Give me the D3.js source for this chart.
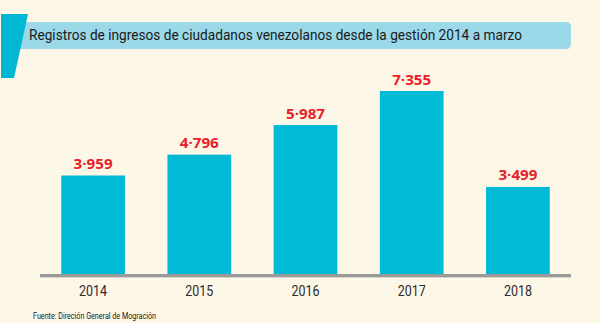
<!DOCTYPE html>
<html>
<head>
<meta charset="utf-8">
<script src="https://cdn.jsdelivr.net/npm/d3@7"></script>
<style>
  html, body { margin: 0; padding: 0; background: #fdf7e7; }
  svg { display: block; }
</style>
</head>
<body>
<div id="chart"></div>
<script>
// data
var years = ["2014", "2015", "2016", "2017", "2018"];
var ingresos = [3959, 4796, 5987, 7355, 3499];
var titulo = "Registros de ingresos de ciudadanos venezolanos desde la gestión 2014 a marzo";
var fuente = "Fuente: Direción General de Mogración";

var W = 600, H = 323;

var svg = d3.select("#chart").append("svg")
  .attr("width", W)
  .attr("height", H);

svg.append("rect").attr("width", W).attr("height", H).attr("fill", "#fdf7e7");

// title banner
svg.append("path")
  .attr("d", "M10,22 H566 Q571,22 571,27 V44 Q571,49 566,49 H10 Z")
  .attr("fill", "#9bd9e8");

svg.append("path")
  .attr("d", "M1,14 L28,14 L14,78 L1,78 Z")
  .attr("fill", "#00b8d4");

svg.append("text")
  .attr("x", 29)
  .attr("y", 40)
  .attr("font-family", "Roboto, 'Noto Sans', sans-serif")
  .attr("font-size", 15)
  .attr("fill", "#1a1a1a")
  .attr("textLength", 493)
  .attr("lengthAdjust", "spacingAndGlyphs")
  .text(titulo);

// scales
var x = d3.scaleBand()
  .domain(years)
  .range([40, 571])
  .paddingInner(0.4)
  .paddingOuter(0.2);

var y = d3.scaleLinear()
  .domain([0, 7355])
  .range([274, 91]);

// bars
svg.selectAll(".bar")
  .data(ingresos)
  .enter().append("rect")
  .attr("class", "bar")
  .attr("x", function(d, i) { return x(years[i]); })
  .attr("y", function(d) { return y(d); })
  .attr("width", x.bandwidth())
  .attr("height", function(d) { return y(0) - y(d); })
  .attr("fill", "#00bad6");

// axis line
svg.append("line")
  .attr("x1", 40).attr("x2", 571)
  .attr("y1", y(0) + 1.5).attr("y2", y(0) + 1.5)
  .attr("stroke", "#9a9a9a")
  .attr("stroke-width", 3);
svg.append("line")
  .attr("x1", 40).attr("x2", 571)
  .attr("y1", y(0) + 3.5).attr("y2", y(0) + 3.5)
  .attr("stroke", "#d8d4c8")
  .attr("stroke-width", 1);

// value labels
var fmt = function(d) { return d3.format(",")(d).replace(",", "·"); };

svg.selectAll(".val")
  .data(ingresos)
  .enter().append("text")
  .attr("class", "val")
  .attr("x", function(d, i) { return x(years[i]) + x.bandwidth() / 2; })
  .attr("y", function(d) { return y(d) - 6.5; })
  .attr("text-anchor", "middle")
  .attr("font-family", "'Open Sans', 'Noto Sans', sans-serif")
  .attr("font-weight", "bold")
  .attr("font-size", 15)
  .attr("fill", "#e8202a")
  .attr("textLength", 39)
  .attr("lengthAdjust", "spacingAndGlyphs")
  .text(fmt);

// year labels
svg.selectAll(".yr")
  .data(years)
  .enter().append("text")
  .attr("class", "yr")
  .attr("x", function(d) { return x(d) + x.bandwidth() / 2; })
  .attr("y", 296)
  .attr("text-anchor", "middle")
  .attr("font-family", "Roboto, 'Noto Sans', sans-serif")
  .attr("font-size", 15)
  .attr("fill", "#2b2b2b")
  .attr("textLength", 28)
  .attr("lengthAdjust", "spacingAndGlyphs")
  .text(function(d) { return d; });

// source
svg.append("text")
  .attr("x", 33)
  .attr("y", 319)
  .attr("font-family", "Roboto, 'Noto Sans', sans-serif")
  .attr("font-size", 9)
  .attr("fill", "#1a1a1a")
  .attr("textLength", 123)
  .attr("lengthAdjust", "spacingAndGlyphs")
  .text(fuente);
</script>
</body>
</html>
